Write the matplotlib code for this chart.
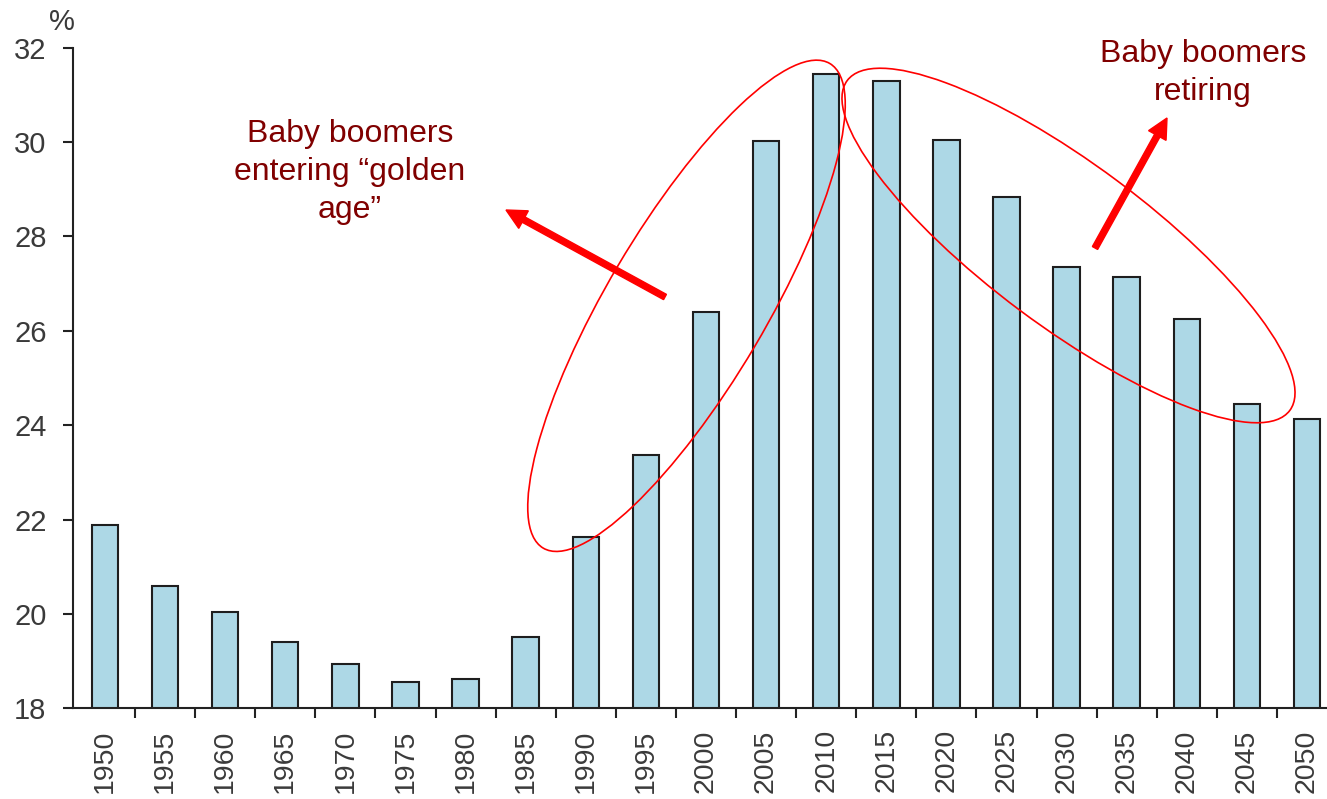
import matplotlib
matplotlib.use("Agg")
import matplotlib.pyplot as plt
from matplotlib.patches import Ellipse, FancyArrow
from matplotlib.transforms import Affine2D

# Share of population (%) by year
years = ["1950", "1955", "1960", "1965", "1970", "1975", "1980", "1985", "1990",
         "1995", "2000", "2005", "2010", "2015", "2020", "2025", "2030", "2035",
         "2040", "2045", "2050"]
share = [21.88, 20.59, 20.05, 19.41, 18.94, 18.55, 18.63, 19.52, 21.64,
         23.37, 26.40, 30.03, 31.45, 31.29, 30.04, 28.83, 27.35, 27.15,
         26.26, 24.45, 24.14]
y_ticks = [18, 20, 22, 24, 26, 28, 30, 32]

label_golden = "Baby boomers\nentering “golden\nage”"
label_retiring = "Baby boomers\nretiring"

plt.rcParams["font.family"] = ["Liberation Sans", "DejaVu Sans"]

W, H = 1327, 799
fig = plt.figure(figsize=(W / 100, H / 100), dpi=100)
ax = fig.add_axes([73 / W, 1 - 708.3 / H, 1 - 73 / W, (708.3 - 47.7) / H])

# pixel-space transform (origin top-left) for the hand-drawn callouts
px = Affine2D().scale(1 / W, -1 / H).translate(0, 1) + fig.transFigure

pos = list(range(len(years)))
ax.bar(pos, share, width=0.44, color="#ADD8E6", edgecolor="#1e1e1e",
       linewidth=1.5, zorder=2)

ax.set_ylim(18, 32)
ax.set_xlim(-0.532, 20.333)
ax.set_yticks(y_ticks)
ax.set_yticklabels([str(t) for t in y_ticks])
ax.set_xticks(pos)
ax.set_xticklabels(years, rotation=90)
ax.set_xticks([p + 0.5 for p in pos[:-1]], minor=True)

for side in ("top", "right"):
    ax.spines[side].set_visible(False)
for side in ("left", "bottom"):
    ax.spines[side].set_linewidth(1.5)
    ax.spines[side].set_color("#222222")

ax.tick_params(axis="x", which="major", length=0, pad=15, labelsize=20.5,
               labelcolor="#3a3a3a")
ax.tick_params(axis="x", which="minor", length=7, width=1.5, color="#222222",
               direction="out")
ax.tick_params(axis="y", which="major", length=7, width=1.5, color="#222222",
               pad=12, labelsize=21, labelcolor="#3a3a3a")

ax.text(62, 22, "%", transform=px, ha="center", va="center", fontsize=21,
        color="#3a3a3a", clip_on=False)

# Callout ellipses
ax.add_patch(Ellipse((686.5, 305.8), 2 * 281.5, 2 * 79.4, angle=-59.4,
                     fill=False, edgecolor="#FF0000", linewidth=1.2,
                     transform=px, clip_on=False, zorder=5))
ax.add_patch(Ellipse((1068.5, 245.5), 2 * 276, 2 * 81, angle=36.7,
                     fill=False, edgecolor="#FF0000", linewidth=1.2,
                     transform=px, clip_on=False, zorder=5))

# Arrows
ax.add_patch(FancyArrow(665, 297, 506 - 665, 210 - 297, width=6,
                        head_width=20, head_length=20,
                        length_includes_head=True, color="#FF0000",
                        transform=px, clip_on=False, zorder=6))
ax.add_patch(FancyArrow(1095, 248, 1167 - 1095, 118 - 248, width=6,
                        head_width=20, head_length=20,
                        length_includes_head=True, color="#FF0000",
                        transform=px, clip_on=False, zorder=6))

ax.text(350, 172, label_golden, transform=px, ha="center", va="center",
        fontsize=23, color="#800000", linespacing=1.36, clip_on=False)
ax.text(1203, 73, label_retiring, transform=px, ha="center", va="center",
        fontsize=23, color="#800000", linespacing=1.36, clip_on=False)

fig.savefig("out.png", dpi=100)
